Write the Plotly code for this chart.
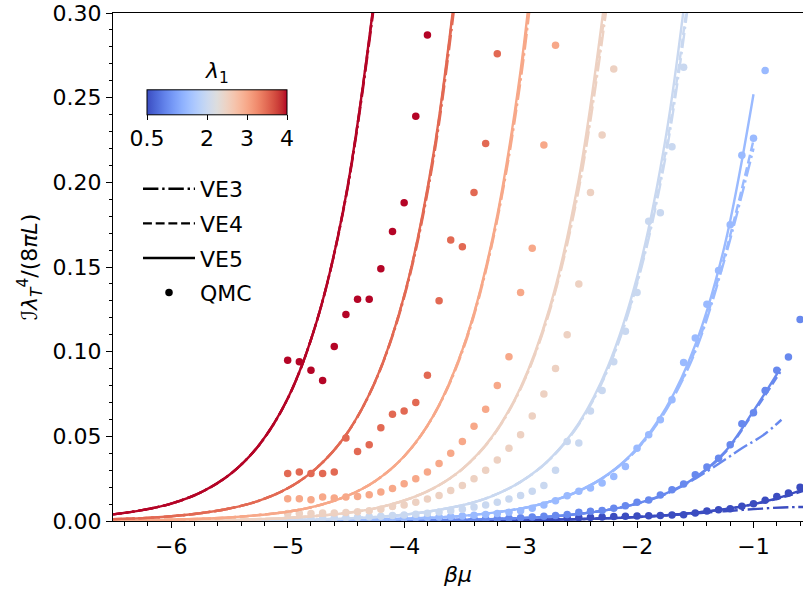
import plotly.graph_objects as go

# ---------------- data ----------------
lambdas = [0.5, 1.0, 1.5, 2.0, 2.5, 3.0, 3.5, 4.0]

# virial-expansion curves, lambda_1 = 4.0
ve_x_40 = [-6.5, -6.25, -6.0, -5.75, -5.5, -5.25, -5.0, -4.75, -4.5, -4.25]
ve5_40 = [0.0039, 0.0064, 0.0103, 0.0168, 0.0273, 0.0445, 0.0723, 0.118, 0.192, 0.312]
ve4_40 = [0.0039, 0.0064, 0.0103, 0.0168, 0.0273, 0.0445, 0.0723, 0.118, 0.192, 0.311]
ve3_40 = [0.0039, 0.0064, 0.0103, 0.0168, 0.0273, 0.0445, 0.0722, 0.118, 0.191, 0.309]

# lambda_1 = 3.5
ve_x_35 = [-6.5, -6.25, -6.0, -5.75, -5.5, -5.25, -5.0, -4.75, -4.5, -4.25, -4.0, -3.75, -3.5]
ve5_35 = [0.0011, 0.0017, 0.0028, 0.0046, 0.0074, 0.0119, 0.0193, 0.0314, 0.0508, 0.0823, 0.133, 0.216, 0.350]
ve4_35 = [0.0011, 0.0017, 0.0028, 0.0046, 0.0074, 0.0119, 0.0193, 0.0314, 0.0508, 0.0822, 0.133, 0.215, 0.348]
ve3_35 = [0.0011, 0.0017, 0.0028, 0.0046, 0.0074, 0.0119, 0.0193, 0.0314, 0.0507, 0.0820, 0.132, 0.213, 0.344]

# lambda_1 = 3.0
ve_x_30 = [-6.5, -6.0, -5.5, -5.0, -4.75, -4.5, -4.25, -4.0, -3.75, -3.5, -3.25, -3.0, -2.75]
ve5_30 = [0.0003, 0.0008, 0.0021, 0.0055, 0.0089, 0.0145, 0.0235, 0.0382, 0.0621, 0.101, 0.164, 0.266, 0.432]
ve4_30 = [0.0003, 0.0008, 0.0021, 0.0055, 0.0089, 0.0145, 0.0235, 0.0382, 0.0620, 0.101, 0.163, 0.263, 0.425]
ve3_30 = [0.0003, 0.0008, 0.0021, 0.0055, 0.0089, 0.0145, 0.0235, 0.0381, 0.0619, 0.100, 0.162, 0.260, 0.418]

# lambda_1 = 2.5
ve_x_25 = [-6.5, -6.0, -5.5, -5.0, -4.5, -4.25, -4.0, -3.75, -3.5, -3.25, -3.0, -2.75, -2.5, -2.25]
ve5_25 = [0.0001, 0.0003, 0.0007, 0.0018, 0.0047, 0.0075, 0.0121, 0.0193, 0.0308, 0.0493, 0.0789, 0.126, 0.202, 0.323]
ve4_25 = [0.0001, 0.0003, 0.0007, 0.0018, 0.0047, 0.0075, 0.0121, 0.0193, 0.0307, 0.0491, 0.0784, 0.125, 0.198, 0.314]
ve3_25 = [0.0001, 0.0003, 0.0007, 0.0018, 0.0047, 0.0075, 0.0121, 0.0192, 0.0306, 0.0489, 0.0780, 0.124, 0.196, 0.309]

# lambda_1 = 2.0
ve_x_20 = [-6.5, -5.5, -5.0, -4.5, -4.0, -3.5, -3.25, -3.0, -2.75, -2.5, -2.25, -2.0, -1.75, -1.5]
ve5_20 = [0.0000, 0.0002, 0.0006, 0.0015, 0.0037, 0.0093, 0.0146, 0.0232, 0.0366, 0.0578, 0.0913, 0.144, 0.228, 0.360]
ve4_20 = [0.0000, 0.0002, 0.0006, 0.0015, 0.0037, 0.0093, 0.0146, 0.0231, 0.0364, 0.0573, 0.0900, 0.141, 0.220, 0.343]
ve3_20 = [0.0000, 0.0002, 0.0006, 0.0015, 0.0037, 0.0093, 0.0146, 0.0231, 0.0363, 0.0570, 0.0895, 0.140, 0.217, 0.338]

# lambda_1 = 1.5
ve_x_15 = [-6.5, -5.5, -5.0, -4.5, -4.0, -3.5, -3.0, -2.75, -2.5, -2.25, -2.0, -1.75, -1.5, -1.25, -1.0]
ve5_15 = [0.0000, 0.0001, 0.0002, 0.0005, 0.0013, 0.0030, 0.0073, 0.0114, 0.0178, 0.0276, 0.0430, 0.0669, 0.104, 0.162, 0.252]
ve4_15 = [0.0000, 0.0001, 0.0002, 0.0005, 0.0013, 0.0030, 0.0073, 0.0114, 0.0177, 0.0274, 0.0425, 0.0660, 0.101, 0.156, 0.225]
ve3_15 = [0.0000, 0.0001, 0.0002, 0.0005, 0.0013, 0.0030, 0.0073, 0.0114, 0.0177, 0.0273, 0.0423, 0.0655, 0.100, 0.154, 0.220]

# lambda_1 = 1.0
ve_x_10 = [-6.5, -5.5, -5.0, -4.5, -4.0, -3.5, -3.0, -2.75, -2.5, -2.25, -2.0, -1.75, -1.5, -1.25, -1.0, -0.77]
ve5_10 = [0.0, 0.0, 0.0, 0.0001, 0.0003, 0.0007, 0.0017, 0.0026, 0.0042, 0.0066, 0.0103, 0.0163, 0.0257, 0.0405, 0.065, 0.090]
ve4_10 = [0.0, 0.0, 0.0, 0.0001, 0.0003, 0.0007, 0.0017, 0.0026, 0.0042, 0.0066, 0.0103, 0.0162, 0.0255, 0.0400, 0.064, 0.088]
ve3_x_10 = [-6.5, -5.5, -5.0, -4.5, -4.0, -3.5, -3.0, -2.75, -2.5, -2.25, -2.0, -1.75, -1.5, -1.25, -1.1, -1.0, -0.9, -0.76]
ve3_10 = [0.0, 0.0, 0.0, 0.0001, 0.0003, 0.0007, 0.0017, 0.0026, 0.0042, 0.0066, 0.0102, 0.0160, 0.0250, 0.0360, 0.043, 0.047, 0.0515, 0.0598]

# lambda_1 = 0.5
ve_x_05 = [-6.5, -5.0, -4.0, -3.5, -3.0, -2.5, -2.0, -1.75, -1.5, -1.25, -1.0, -0.75, -0.5]
ve5_05 = [0.0, 0.0, 0.0001, 0.0003, 0.0006, 0.0011, 0.0024, 0.0034, 0.0049, 0.0070, 0.0100, 0.0144, 0.0205]
ve4_05 = [0.0, 0.0, 0.0001, 0.0003, 0.0006, 0.0011, 0.0024, 0.0034, 0.0049, 0.0069, 0.0099, 0.0140, 0.0195]
ve3_05 = [0.0, 0.0, 0.0001, 0.0003, 0.0006, 0.0011, 0.0023, 0.0033, 0.0045, 0.0058, 0.0070, 0.0080, 0.0084]

# QMC points
qmc_x_40 = [-5.0, -4.9, -4.8, -4.7, -4.6, -4.5, -4.4, -4.3, -4.2, -4.1, -4.0, -3.9, -3.8]
qmc_40 = [0.095, 0.094, 0.089, 0.083, 0.103, 0.122, 0.131, 0.131, 0.149, 0.171, 0.188, 0.239, 0.287]

qmc_x_35 = [-5.0, -4.9, -4.8, -4.7, -4.6, -4.5, -4.4, -4.3, -4.2, -4.1, -4.0, -3.9, -3.8, -3.7,
            -3.6, -3.5, -3.4, -3.3, -3.2]
qmc_35 = [0.028, 0.029, 0.028, 0.028, 0.029, 0.049, 0.041, 0.045, 0.055, 0.063, 0.065, 0.070, 0.086, 0.130,
          0.166, 0.162, 0.194, 0.223, 0.276]

qmc_x_30 = [-5.0, -4.9, -4.8, -4.7, -4.6, -4.5, -4.4, -4.3, -4.2, -4.1, -4.0, -3.9, -3.8, -3.7,
            -3.6, -3.5, -3.4, -3.3, -3.2, -3.1, -3.0, -2.9, -2.8, -2.7]
qmc_30 = [0.0132, 0.0132, 0.0126, 0.0142, 0.0136, 0.0142, 0.0145, 0.0155, 0.0171, 0.0192, 0.022, 0.025, 0.029, 0.034,
          0.040, 0.047, 0.056, 0.066, 0.080, 0.097, 0.135, 0.161, 0.222, 0.281]

qmc_x_25 = [-5.0, -4.9, -4.8, -4.7, -4.6, -4.5, -4.4, -4.3, -4.2, -4.1, -4.0, -3.9, -3.8, -3.7,
            -3.6, -3.5, -3.4, -3.3, -3.2, -3.1, -3.0, -2.9, -2.8, -2.7, -2.6, -2.5, -2.4, -2.3, -2.2]
qmc_25 = [0.0045, 0.0045, 0.0045, 0.0047, 0.0047, 0.0050, 0.0055, 0.0060, 0.0070, 0.0085, 0.0095, 0.011, 0.013, 0.015,
          0.018, 0.021, 0.025, 0.030, 0.036, 0.043, 0.051, 0.062, 0.075, 0.090, 0.110, 0.140, 0.194, 0.228, 0.267]

qmc_x_20 = [-5.0, -4.9, -4.8, -4.7, -4.6, -4.5, -4.4, -4.3, -4.2, -4.1, -4.0, -3.9, -3.8, -3.7,
            -3.6, -3.5, -3.4, -3.3, -3.2, -3.1, -3.0, -2.9, -2.8, -2.7, -2.6, -2.5, -2.4, -2.3,
            -2.2, -2.1, -2.0, -1.9, -1.8, -1.7, -1.6]
qmc_20 = [0.0015, 0.0015, 0.0016, 0.0017, 0.0018, 0.0020, 0.0022, 0.0025, 0.0028, 0.0032, 0.0036, 0.0040, 0.0046, 0.0053,
          0.0060, 0.0070, 0.0082, 0.0095, 0.011, 0.013, 0.015, 0.0175, 0.021, 0.030, 0.047, 0.046, 0.065, 0.077,
          0.094, 0.112, 0.135, 0.177, 0.182, 0.221, 0.268]

qmc_x_15 = [-4.5, -4.4, -4.3, -4.2, -4.1, -4.0, -3.9, -3.8, -3.7, -3.6, -3.5, -3.4, -3.3, -3.2,
            -3.1, -3.0, -2.9, -2.8, -2.7, -2.6, -2.5, -2.4, -2.3, -2.2, -2.1, -2.0, -1.9, -1.8,
            -1.7, -1.6, -1.5, -1.4, -1.3, -1.2, -1.1, -1.0, -0.9]
qmc_15 = [0.0010, 0.0011, 0.0012, 0.0013, 0.0015, 0.0017, 0.0019, 0.0021, 0.0024, 0.0027, 0.0030, 0.0034, 0.0039, 0.0045,
          0.0052, 0.0060, 0.0075, 0.0095, 0.012, 0.0149, 0.0175, 0.0195, 0.0224, 0.0263, 0.0322, 0.043, 0.051, 0.0598,
          0.0716, 0.0936, 0.108, 0.128, 0.148, 0.175, 0.216, 0.226, 0.266]

qmc_x_10 = [-4.0, -3.9, -3.8, -3.7, -3.6, -3.5, -3.4, -3.3, -3.2, -3.1, -3.0, -2.9, -2.8, -2.7,
            -2.6, -2.5, -2.4, -2.3, -2.2, -2.1, -2.0, -1.9, -1.8, -1.7, -1.6, -1.5, -1.4, -1.3,
            -1.2, -1.1, -1.0, -0.9, -0.8, -0.7, -0.6]
qmc_10 = [0.0004, 0.0005, 0.0006, 0.0007, 0.0008, 0.0009, 0.0010, 0.0012, 0.0014, 0.0016, 0.0019, 0.0023, 0.0028, 0.0033,
          0.0039, 0.0052, 0.0058, 0.0062, 0.0075, 0.0090, 0.0110, 0.0124, 0.0153, 0.0185, 0.0218, 0.0273, 0.0319, 0.037,
          0.045, 0.0574, 0.064, 0.077, 0.089, 0.0968, 0.119]

qmc_x_05 = [-4.0, -3.9, -3.8, -3.7, -3.6, -3.5, -3.4, -3.3, -3.2, -3.1, -3.0, -2.9, -2.8, -2.7,
            -2.6, -2.5, -2.4, -2.3, -2.2, -2.1, -2.0, -1.9, -1.8, -1.7, -1.6, -1.5, -1.4, -1.3,
            -1.2, -1.1, -1.0, -0.9, -0.8, -0.7, -0.6]
qmc_05 = [0.0003, 0.0003, 0.0004, 0.0004, 0.0005, 0.0005, 0.0006, 0.0007, 0.0008, 0.0009, 0.0010, 0.0012, 0.0014, 0.0016,
          0.0018, 0.0020, 0.0022, 0.0024, 0.0026, 0.0028, 0.0030, 0.0031, 0.0033, 0.0035, 0.0037, 0.0047, 0.0059, 0.0067,
          0.0073, 0.0087, 0.0102, 0.0122, 0.0145, 0.0165, 0.0199]

series = {
    0.5: (ve_x_05, ve3_05, ve_x_05, ve4_05, ve_x_05, ve5_05, qmc_x_05, qmc_05),
    1.0: (ve3_x_10, ve3_10, ve_x_10, ve4_10, ve_x_10, ve5_10, qmc_x_10, qmc_10),
    1.5: (ve_x_15, ve3_15, ve_x_15, ve4_15, ve_x_15, ve5_15, qmc_x_15, qmc_15),
    2.0: (ve_x_20, ve3_20, ve_x_20, ve4_20, ve_x_20, ve5_20, qmc_x_20, qmc_20),
    2.5: (ve_x_25, ve3_25, ve_x_25, ve4_25, ve_x_25, ve5_25, qmc_x_25, qmc_25),
    3.0: (ve_x_30, ve3_30, ve_x_30, ve4_30, ve_x_30, ve5_30, qmc_x_30, qmc_30),
    3.5: (ve_x_35, ve3_35, ve_x_35, ve4_35, ve_x_35, ve5_35, qmc_x_35, qmc_35),
    4.0: (ve_x_40, ve3_40, ve_x_40, ve4_40, ve_x_40, ve5_40, qmc_x_40, qmc_40),
}

cbar_ticks = [0.5, 2, 3, 4]
cbar_ticktext = ["0.5", "2", "3", "4"]
lam_min, lam_max = 0.5, 4.0

# ---------------- styling ----------------
# coolwarm colormap control points (Moreland)
CW = [(59, 76, 192), (68, 90, 204), (77, 104, 215), (87, 117, 225), (98, 130, 234), (108, 142, 241),
      (119, 154, 247), (130, 165, 251), (141, 176, 254), (152, 185, 255), (163, 194, 255), (174, 201, 253),
      (184, 208, 249), (194, 213, 244), (204, 217, 238), (213, 219, 230), (221, 221, 221), (229, 216, 209),
      (236, 211, 197), (241, 204, 185), (245, 196, 173), (247, 187, 160), (247, 177, 148), (247, 166, 135),
      (244, 154, 123), (241, 141, 111), (236, 127, 99), (229, 112, 88), (222, 96, 77), (213, 80, 66),
      (203, 62, 56), (192, 40, 47), (180, 4, 38)]


def cw(t):
    t = min(max(t, 0.0), 1.0)
    f = t * (len(CW) - 1)
    i = min(int(f), len(CW) - 2)
    w = f - i
    c = [CW[i][k] * (1 - w) + CW[i + 1][k] * w for k in range(3)]
    return "rgb(%d,%d,%d)" % tuple(round(v) for v in c)


colorscale = [[i / (len(CW) - 1), "rgb(%d,%d,%d)" % c] for i, c in enumerate(CW)]

FONT = "DejaVu Sans"
FS = 22
LW = 2.4
DASH = "8.9px,3.8px"
DASHDOT = "15.4px,3.8px,2.4px,3.8px"

W, H = 803, 594
L, R, T, B = 113, 0, 13, 73
pw, ph = W - L - R, H - T - B


def px_x(p):
    return (p - L) / pw


def px_y(p):
    return (H - B - p) / ph


fig = go.Figure()

for lam in lambdas:
    col = cw((lam - lam_min) / (lam_max - lam_min))
    x3, y3, x4, y4, x5, y5, xq, yq = series[lam]
    fig.add_trace(go.Scatter(x=x5, y=y5, mode="lines", line=dict(color=col, width=LW, shape="spline"),
                             showlegend=False, hoverinfo="skip"))
    fig.add_trace(go.Scatter(x=x4, y=y4, mode="lines", line=dict(color=col, width=LW, dash=DASH, shape="spline"),
                             showlegend=False, hoverinfo="skip"))
    fig.add_trace(go.Scatter(x=x3, y=y3, mode="lines", line=dict(color=col, width=LW, dash=DASHDOT, shape="spline"),
                             showlegend=False, hoverinfo="skip"))
    fig.add_trace(go.Scatter(x=xq, y=yq, mode="markers", marker=dict(color=col, size=7.5, line=dict(width=0)),
                             showlegend=False, hoverinfo="skip"))

# legend entries
for name, dash, grp in [("VE3", DASHDOT, "a"), ("VE4", DASH, "b"), ("VE5", "solid", "c")]:
    fig.add_trace(go.Scatter(x=[None], y=[None], mode="lines", name=name, legendgroup=grp,
                             line=dict(color="black", width=LW, dash=dash)))
fig.add_trace(go.Scatter(x=[None], y=[None], mode="markers", name="QMC", legendgroup="d",
                         marker=dict(color="black", size=7.5)))

# colorbar carrier
fig.add_trace(go.Scatter(
    x=[None], y=[None], mode="markers", showlegend=False, hoverinfo="skip",
    marker=dict(color=[lam_min], cmin=lam_min, cmax=lam_max, colorscale=colorscale, showscale=True,
                colorbar=dict(
                    orientation="h", x=px_x(217), xanchor="center", xref="paper",
                    y=px_y(121.5), yanchor="middle", yref="paper",
                    len=140, lenmode="pixels", thickness=25, thicknessmode="pixels",
                    outlinewidth=1, outlinecolor="black", xpad=0, ypad=0,
                    tickvals=cbar_ticks, ticktext=cbar_ticktext,
                    ticks="outside", ticklen=5, tickwidth=1, tickcolor="black",
                    tickfont=dict(family=FONT, size=FS, color="black"),
                    bgcolor="rgba(0,0,0,0)"))))

fig.add_annotation(x=px_x(217), y=px_y(72), xref="paper", yref="paper", xanchor="center", yanchor="middle",
                   text="<i>λ</i><sub>1</sub>", showarrow=False,
                   font=dict(family=FONT, size=FS, color="black"))

fig.update_layout(
    width=W, height=H, margin=dict(l=L, r=R, t=T, b=B, autoexpand=False),
    paper_bgcolor="white", plot_bgcolor="white",
    font=dict(family=FONT, size=FS, color="black"),
    showlegend=True,
    legend=dict(x=px_x(138), y=px_y(168), xanchor="left", yanchor="top", itemwidth=52,
                bgcolor="rgba(0,0,0,0)", borderwidth=0, traceorder="grouped", tracegroupgap=3,
                font=dict(family=FONT, size=FS, color="black")),
    xaxis=dict(range=[-6.5, -0.575], tick0=0, dtick=1, ticks="outside", ticklen=6, tickwidth=1,
               tickcolor="black", showline=True, linecolor="black", linewidth=1, mirror=True,
               showgrid=False, zeroline=False, tickfont=dict(family=FONT, size=FS, color="black"),
               minor=dict(tick0=0, dtick=0.2, ticks="outside", ticklen=3.5, tickwidth=1, tickcolor="black",
                          showgrid=False),
               title=dict(text="<i>βμ</i>", font=dict(family=FONT, size=FS, color="black"), standoff=8)),
    yaxis=dict(range=[0, 0.30], tick0=0, dtick=0.05, tickformat=".2f", ticks="outside", ticklen=6, tickwidth=1,
               tickcolor="black", showline=True, linecolor="black", linewidth=1, mirror=False,
               showgrid=False, zeroline=False, tickfont=dict(family=FONT, size=FS, color="black"),
               minor=dict(tick0=0, dtick=0.01, ticks="outside", ticklen=3.5, tickwidth=1, tickcolor="black",
                          showgrid=False),
               title=dict(text="<i>ℐλ</i><sub><i>T</i></sub><sup>4</sup>/(8<i>πL</i>)",
                          font=dict(family=FONT, size=FS, color="black"), standoff=8)),
)

fig.write_html("out.html")
